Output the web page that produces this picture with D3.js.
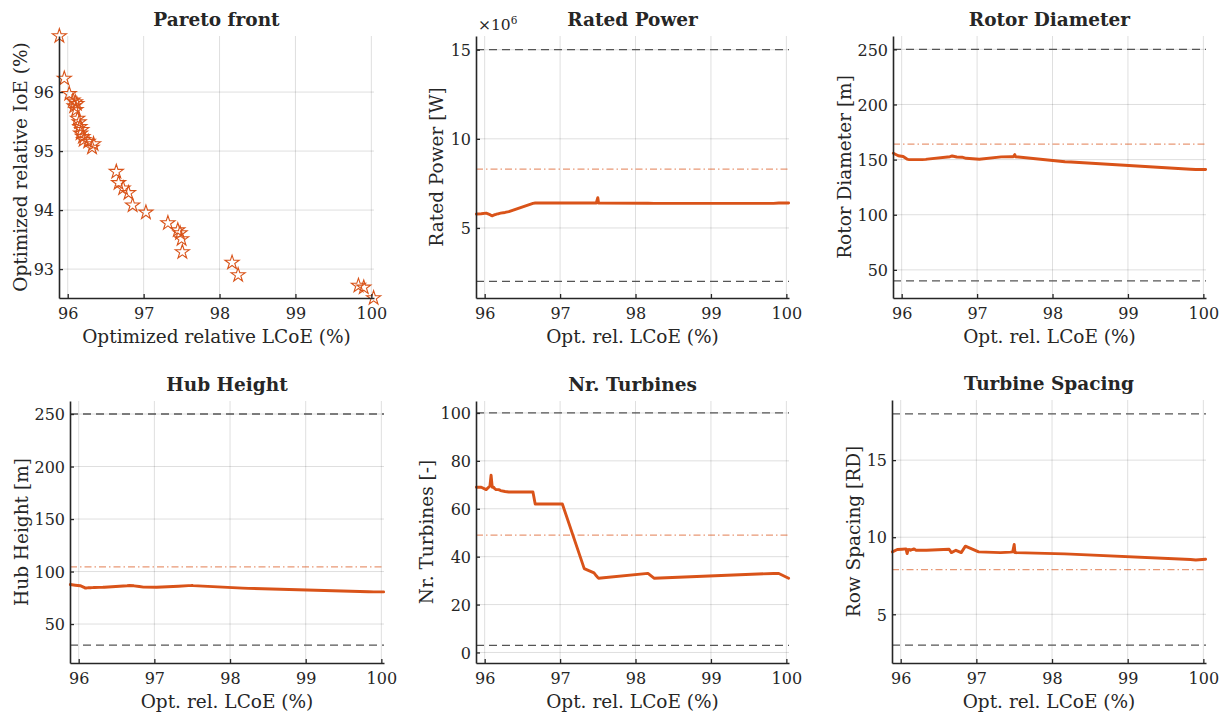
<!DOCTYPE html>
<html>
<head>
<meta charset="utf-8">
<script src="https://cdn.jsdelivr.net/npm/d3@7"></script>
<style>
  html, body { margin: 0; padding: 0; background: #fff; }
  svg text { font-family: "DejaVu Serif", "Liberation Serif", serif; fill: #262626; }
</style>
</head>
<body>
<svg id="chart" width="1223" height="714"></svg>
<script>
// ---------------- DATA ----------------
// Pareto points, sorted by optimized relative LCoE (%)
const lcoe = [95.89, 95.955, 96.02, 96.07, 96.085, 96.10, 96.11, 96.12, 96.13, 96.15,
              96.16, 96.17, 96.185, 96.20, 96.21, 96.27, 96.32, 96.34, 96.64, 96.67,
              96.73, 96.80, 96.855, 97.03, 97.32, 97.45, 97.48, 97.50, 97.51, 98.165,
              98.245, 99.83, 99.90, 100.03];
const ioe = [96.95, 96.23, 95.97, 95.86, 95.76, 95.83, 95.70, 95.80, 95.55, 95.49,
             95.41, 95.30, 95.36, 95.24, 95.19, 95.16, 95.06, 95.12, 94.65, 94.46,
             94.37, 94.29, 94.08, 93.96, 93.78, 93.66, 93.61, 93.51, 93.29, 93.11,
             92.90, 92.72, 92.69, 92.51];
// Design variables along the front
const ratedPower = [5.78e6, 5.80e6, 5.83e6, 5.75e6, 5.70e6, 5.68e6, 5.70e6, 5.72e6, 5.74e6, 5.76e6,
                    5.78e6, 5.79e6, 5.80e6, 5.82e6, 5.83e6, 5.87e6, 5.92e6, 5.95e6, 6.38e6, 6.40e6,
                    6.40e6, 6.40e6, 6.40e6, 6.40e6, 6.40e6, 6.40e6, 6.40e6, 6.70e6, 6.40e6, 6.39e6,
                    6.38e6, 6.38e6, 6.40e6, 6.40e6];
const rotorDiameter = [155.8, 153.5, 152.8, 150.5, 150.2, 150.0, 150.0, 150.0, 150.0, 150.0,
                       150.0, 150.0, 150.0, 150.0, 150.0, 150.0, 150.2, 150.4, 152.6, 153.3,
                       152.4, 152.2, 151.2, 150.3, 152.5, 152.6, 152.6, 154.5, 152.6, 148.0,
                       147.8, 141.3, 141.0, 141.0];
const hubHeight = [87.6, 87.0, 86.5, 85.0, 84.3, 84.3, 84.4, 84.5, 84.5, 84.6,
                   84.6, 84.7, 84.7, 84.8, 84.8, 84.9, 85.0, 85.1, 86.5, 86.7,
                   86.4, 85.8, 85.2, 85.0, 86.0, 86.6, 86.6, 86.8, 86.6, 84.2,
                   84.0, 80.8, 80.6, 80.6];
const nrTurbines = [69, 69, 68, 69.5, 74, 69, 69, 69, 68.5, 68,
                    68, 68, 68, 67.8, 67.6, 67.2, 67, 67, 67, 62,
                    62, 62, 62, 62, 35, 33.2, 32, 31.3, 31, 33,
                    31, 33, 33, 31];
const rowSpacing = [9.05, 9.20, 9.22, 9.24, 8.94, 9.20, 9.18, 9.20, 9.15, 9.20,
                    9.20, 9.24, 9.22, 9.15, 9.15, 9.15, 9.15, 9.15, 9.22, 9.00,
                    9.15, 9.00, 9.42, 9.05, 9.00, 9.03, 9.05, 9.53, 9.00, 8.92,
                    8.90, 8.55, 8.52, 8.57];
// Bounds [lower, upper] and baseline design per variable
const lowerBounds = [2e6, 40, 30, 3, 3];
const upperBounds = [15e6, 250, 250, 100, 18];
const baselines = [8.3e6, 164, 104.5, 49, 7.9];
// Tick labels
const xTicks = [96, 97, 98, 99, 100];
const ticksIoE = [93, 94, 95, 96];
const ticksPower = [5e6, 10e6, 15e6];
const ticksRotor = [50, 100, 150, 200, 250];
const ticksHub = [50, 100, 150, 200, 250];
const ticksTurb = [0, 20, 40, 60, 80, 100];
const ticksSpacing = [5, 10, 15];
const titles = ["Pareto front", "Rated Power", "Rotor Diameter", "Hub Height", "Nr.  Turbines", "Turbine Spacing"];
const yLabels = ["Optimized relative IoE (%)", "Rated Power [W]", "Rotor Diameter [m]", "Hub Height [m]", "Nr. Turbines [-]", "Row Spacing [RD]"];
const xLabels = ["Optimized relative LCoE (%)", "Opt. rel. LCoE (%)", "Opt. rel. LCoE (%)", "Opt. rel. LCoE (%)", "Opt. rel. LCoE (%)", "Opt. rel. LCoE (%)"];

// ---------------- LAYOUT ----------------
const ORANGE = "#D95319";
const svg = d3.select("#chart");
const xDomain = [95.885, 100.035];

const panels = [
  {box: [59, 374, 36, 298], yDom: [92.51, 96.95], ticks: ticksIoE, ylx: 27, scatter: true},
  {box: [476, 789, 36, 298], yDom: [1.07e6, 15.77e6], ticks: ticksPower, ylx: 443, vals: ratedPower, b: 0, fmt: d => d / 1e6, exp: true},
  {box: [893, 1206, 36, 298], yDom: [24.5, 262.1], ticks: ticksRotor, ylx: 851, vals: rotorDiameter, b: 1},
  {box: [70, 384, 401, 663], yDom: [12.9, 262.4], ticks: ticksHub, ylx: 28, vals: hubHeight, b: 2},
  {box: [476, 789, 401, 663], yDom: [-4.4, 105], ticks: ticksTurb, ylx: 433, vals: nrTurbines, b: 3},
  {box: [892, 1206, 400, 663], yDom: [1.84, 18.9], ticks: ticksSpacing, ylx: 860, vals: rowSpacing, b: 4}
];

panels.forEach((p, i) => {
  const [L, R, T, B] = p.box;
  const x = d3.scaleLinear().domain(xDomain).range([L, R]);
  const y = d3.scaleLinear().domain(p.yDom).range([B, T]);
  const g = svg.append("g");

  // grid
  g.append("g").selectAll("line").data(xTicks).join("line")
    .attr("x1", d => x(d)).attr("x2", d => x(d)).attr("y1", T).attr("y2", B)
    .attr("stroke", "#000").attr("stroke-opacity", 0.13).attr("stroke-width", 1);
  g.append("g").selectAll("line").data(p.ticks).join("line")
    .attr("x1", L).attr("x2", R).attr("y1", d => y(d)).attr("y2", d => y(d))
    .attr("stroke", "#000").attr("stroke-opacity", 0.13).attr("stroke-width", 1);

  if (p.scatter) {
    const star = d3.symbol().type(d3.symbolStar).size(62);
    g.append("g").selectAll("path").data(lcoe).join("path")
      .attr("transform", (d, k) => `translate(${x(d)},${y(ioe[k])})`)
      .attr("d", star)
      .attr("fill", "none").attr("stroke", ORANGE).attr("stroke-width", 1.1)
      .attr("stroke-linejoin", "miter");
  } else {
    const lb = lowerBounds[p.b], ub = upperBounds[p.b], base = baselines[p.b];
    [lb, ub].forEach(v => {
      g.append("line").attr("x1", L).attr("x2", R).attr("y1", y(v)).attr("y2", y(v))
        .attr("stroke", "#555").attr("stroke-width", 1.3).attr("stroke-dasharray", "8,5");
    });
    g.append("line").attr("x1", L).attr("x2", R).attr("y1", y(base)).attr("y2", y(base))
      .attr("stroke", ORANGE).attr("stroke-opacity", 0.6).attr("stroke-width", 1.3)
      .attr("stroke-dasharray", "7,3,1.5,3");
    const line = d3.line().x((d, k) => x(lcoe[k])).y(d => y(d));
    g.append("path").datum(p.vals).attr("d", line)
      .attr("fill", "none").attr("stroke", ORANGE).attr("stroke-width", 2.9)
      .attr("stroke-linejoin", "round").attr("stroke-linecap", "round");
  }

  // axes
  const xAxis = d3.axisBottom(x).tickValues(xTicks).tickSizeInner(-4).tickSizeOuter(0).tickPadding(8).tickFormat(d3.format("d"));
  const gx = g.append("g").attr("transform", `translate(0,${B})`).call(xAxis);
  const yAxis = d3.axisLeft(y).tickValues(p.ticks).tickSizeInner(-4).tickSizeOuter(0).tickPadding(8)
    .tickFormat(p.fmt ? p.fmt : d3.format("d"));
  const gy = g.append("g").attr("transform", `translate(${L},0)`).call(yAxis);
  [gx, gy].forEach(a => {
    a.select(".domain").attr("stroke", "#262626").attr("stroke-width", 1.6);
    a.selectAll(".tick line").attr("stroke", "#262626").attr("stroke-width", 1.3);
    a.selectAll(".tick text").attr("font-size", 16).attr("fill", "#262626")
      .style("font-family", '"DejaVu Serif", serif');
  });
  gx.selectAll(".tick text").attr("dy", null).attr("y", 20.5).attr("dominant-baseline", "auto");
  gy.selectAll(".tick text").attr("x", -5).attr("dy", "0.36em");

  // title
  g.append("text").attr("x", (L + R) / 2).attr("y", T - 10)
    .attr("text-anchor", "middle").attr("font-size", 18.5).attr("font-weight", "bold")
    .attr("fill", "#000").text(titles[i]);
  // x label
  g.append("text").attr("x", (L + R) / 2).attr("y", B + 45)
    .attr("text-anchor", "middle").attr("font-size", 18.5).text(xLabels[i]);
  // y label
  g.append("text").attr("transform", `translate(${p.ylx},${(T + B) / 2}) rotate(-90)`)
    .attr("text-anchor", "middle").attr("font-size", 18.5).text(yLabels[i]);

  if (p.exp) {
    const t = g.append("text").attr("x", L + 2).attr("y", T - 6).attr("font-size", 15.5);
    t.append("tspan").text("×10");
    t.append("tspan").attr("dy", -6).attr("font-size", 10.5).text("6");
  }
});
</script>
</body>
</html>
